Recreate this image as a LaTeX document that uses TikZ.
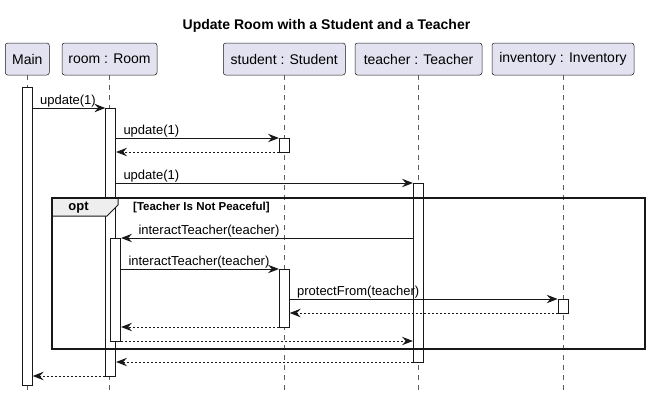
\documentclass[tikz,border=0pt]{standalone}
\usepackage{fontspec}
\setmainfont{Liberation Sans}
\usepackage{tikz}
\usetikzlibrary{arrows.meta,positioning,calc}
\definecolor{partfill}{HTML}{E2E2F0}
\definecolor{umlline}{HTML}{181818}
\definecolor{tabfill}{HTML}{EEEEEE}

\begin{document}
\begin{tikzpicture}[
    x=1pt, y=-1pt,
    participant/.style={draw=umlline, fill=partfill, rounded corners=2.5pt, line width=0.5pt, minimum height=32pt, inner sep=0pt, font=\fontsize{14}{16}\selectfont},
    act/.style={draw=umlline, fill=white, line width=0.8pt, minimum width=10pt, inner sep=0pt},
    lifeline/.style={draw=umlline!70, line width=0.5pt, dash pattern=on 5pt off 5pt},
    msg/.style={draw=umlline, line width=0.8pt, -{Stealth[length=11pt,width=8.5pt,inset=4pt]}},
    ret/.style={msg, dash pattern=on 2pt off 2pt},
    lbl/.style={font=\fontsize{13}{15}\selectfont, inner sep=0pt, anchor=base west}
]
\useasboundingbox (0,0) rectangle (649,400);

% Title
\node[font=\bfseries\fontsize{14}{16}\selectfont] (title) at (326.5,25.5) {Update Room with a Student and a Teacher};

% Participants
\node[participant, minimum width=44pt] (main) at (27.3,59) {Main};
\node[participant, minimum width=95pt] (room) at (109.5,59) {room : Room};
\node[participant, minimum width=122pt] (student) at (284.3,59) {student : Student};
\node[participant, minimum width=127pt] (teacher) at (418.5,59) {teacher : Teacher};
\node[participant, minimum width=142pt] (inventory) at (563,59) {inventory : Inventory};

% Lifelines
\coordinate (bot) at (0,392);
\draw[lifeline] (main) -- (main |- bot);
\draw[lifeline] (room) -- (room |- bot);
\draw[lifeline] (student) -- (student |- bot);
\draw[lifeline] (teacher.south -| 418.3,0) -- (418.3,392);
\draw[lifeline] (inventory) -- (inventory |- bot);

% Activations
\node[act, minimum height=298pt] (ma) at (27.3,236) {};
\node[act, minimum height=268pt] (ra1) at (110.7,242) {};
\node[act, minimum height=14pt] (sa1) at (284.3,145) {};
\node[act, minimum height=179pt] (ta) at (418.3,272.5) {};
\node[act, minimum height=103pt] (ra2) at (115.7,289.5) {};
\node[act, minimum height=58pt] (sa2) at (284.3,298) {};
\node[act, minimum height=14pt] (ia) at (563,306) {};

% Message rows
\coordinate (r1) at (0,108);
\coordinate (r2) at (0,138);
\coordinate (r3) at (0,152);
\coordinate (r4) at (0,183);
\coordinate (r5) at (0,238);
\coordinate (r6) at (0,269);
\coordinate (r7) at (0,299);
\coordinate (r8) at (0,313);
\coordinate (r9) at (0,327);
\coordinate (r10) at (0,341);
\coordinate (r11) at (0,362);
\coordinate (r12) at (0,376);

% Calls
\draw[msg] (ma.east |- r1) -- node[lbl, pos=0, xshift=7pt, yshift=4pt] {update(1)} (ra1.west |- r1);
\draw[msg] (ra1.east |- r2) -- node[lbl, pos=0, xshift=7pt, yshift=4pt] {update(1)} (sa1.west |- r2);
\draw[msg] (ra1.east |- r4) -- node[lbl, pos=0, xshift=7pt, yshift=4pt] {update(1)} (ta.west |- r4);
\draw[msg] (ta.west |- r5) -- node[lbl, pos=1, xshift=17pt, yshift=4pt] {interactTeacher(teacher)} (ra2.east |- r5);
\draw[msg] (ra2.east |- r6) -- node[lbl, pos=0, xshift=7pt, yshift=4pt] {interactTeacher(teacher)} (sa2.west |- r6);
\draw[msg] (sa2.east |- r7) -- node[lbl, pos=0, xshift=7pt, yshift=4pt] {protectFrom(teacher)} (ia.west |- r7);

% Returns
\draw[ret] (sa1.west |- r3) -- (ra1.east |- r3);
\draw[ret] (ia.west |- r8) -- (sa2.east |- r8);
\draw[ret] (sa2.west |- r9) -- (ra2.east |- r9);
\draw[ret] (ra2.east |- r10) -- (ta.west |- r10);
\draw[ret] (ta.west |- r11) -- (ra1.east |- r11);
\draw[ret] (ra1.west |- r12) -- (ma.east |- r12);

% opt fragment
\draw[umlline, line width=1pt, fill=tabfill] (52,198) -- (118,198) -- (118,205) -- (107,216) -- (52,216) -- cycle;
\draw[umlline, line width=1.5pt] (52,198) rectangle (645,349);
\node[font=\bfseries\fontsize{13}{15}\selectfont] (optlbl) at (78.5,207.5) {opt};
\node[font=\bfseries\fontsize{11.5}{13}\selectfont, anchor=west, inner sep=0pt] (guard) at (133,208) {[Teacher Is Not Peaceful]};

\end{tikzpicture}
\end{document}
